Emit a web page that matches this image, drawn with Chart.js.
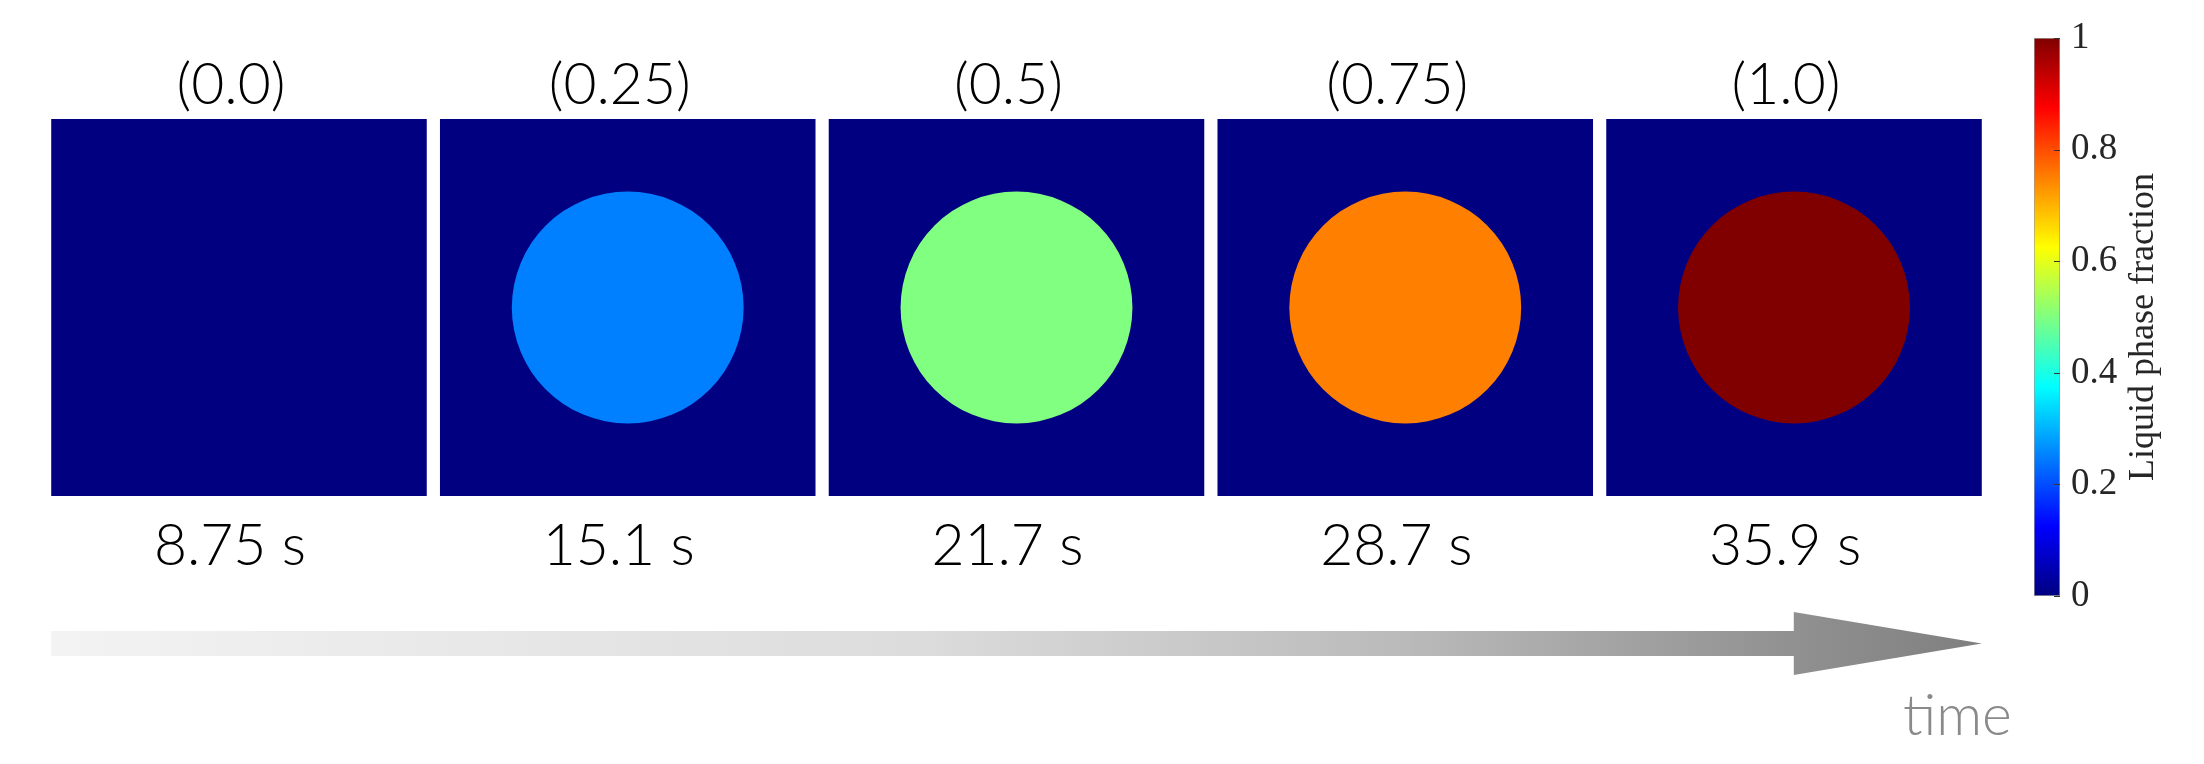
<!DOCTYPE html>
<html>
<head>
<meta charset="utf-8">
<script src="https://cdn.jsdelivr.net/npm/chart.js@4.4.1/dist/chart.umd.min.js"></script>
<style>
  html, body { margin: 0; padding: 0; background: #fff; }
  #wrap { position: relative; width: 2204px; height: 764px; }
  #snapshots { position: absolute; left: 0; top: 0; }
  #colorbar { position: absolute; left: 2000px; top: 0; }
</style>
</head>
<body>
<div id="wrap">
  <canvas id="snapshots" width="2204" height="764"></canvas>
  <canvas id="colorbar" width="204" height="764"></canvas>
</div>
<script>
// ── DATA ───────────────────────────────────────────────────────────
const TIMES = [8.75, 15.1, 21.7, 28.7, 35.9];            // snapshot time, s
const LIQUID_FRACTION = [0.0, 0.25, 0.5, 0.75, 1.0];     // droplet liquid fraction
const DOMAIN = [-1, 1];                                  // square domain, half-width units
const DROPLET_CENTER = 0;
const DROPLET_RADIUS = 0.615;                            // same units as DOMAIN
const CBAR_TICKS = [0, 0.2, 0.4, 0.6, 0.8, 1];
const CBAR_LABEL = 'Liquid phase fraction';

// ── JET COLORMAP ───────────────────────────────────────────────────
const JET_POS = [0, 0.125, 0.375, 0.625, 0.875, 1];
const JET_RGB = [[0, 0, 128], [0, 0, 255], [0, 255, 255], [255, 255, 0], [255, 0, 0], [128, 0, 0]];

const rgb = (c) => `rgb(${c.map(Math.round).join(',')})`;

function jet(v) {
  for (let i = 1; i < JET_POS.length; i++) {
    if (v <= JET_POS[i]) {
      const t = (v - JET_POS[i - 1]) / (JET_POS[i] - JET_POS[i - 1]);
      const a = JET_RGB[i - 1], b = JET_RGB[i];
      return rgb(a.map((c, k) => c + (b[k] - c) * t));
    }
  }
  return rgb(JET_RGB[JET_RGB.length - 1]);
}

const fmtFraction = (v) => '(' + (Number.isInteger(v) ? v.toFixed(1) : String(v)) + ')';
const LABEL_FONT = { family: "'Lato Light', Lato, 'Open Sans', sans-serif", weight: '300', size: 57, lineHeight: 1.1 };

// droplet radius in pixels, taken from the y scale once the layout is known
let dropletPx = 0;
const dropletSize = {
  id: 'dropletSize',
  afterLayout(chart) {
    const y = chart.scales.y;
    dropletPx = Math.abs(y.getPixelForValue(DROPLET_RADIUS) - y.getPixelForValue(DROPLET_CENTER));
  }
};

// ── TIME ARROW (decoration under the panels) ───────────────────────
const timeArrow = {
  id: 'timeArrow',
  afterDatasetsDraw(chart) {
    const { ctx, chartArea } = chart;
    const bars = chart.getDatasetMeta(0).data;
    const first = bars[0], last = bars[bars.length - 1];
    const x0 = first.x - first.width / 2;
    const x1 = last.x + last.width / 2;
    const yc = chartArea.bottom + 147.5;
    const headLen = 188, shaft = 12.5, head = 31.5;

    const g = ctx.createLinearGradient(x0, 0, x1, 0);
    g.addColorStop(0, '#f3f3f3');
    g.addColorStop(0.45, '#dcdcdc');
    g.addColorStop(0.7, '#bababa');
    g.addColorStop(0.9, '#919191');
    g.addColorStop(1, '#7f7f7f');

    ctx.save();
    ctx.fillStyle = g;
    ctx.beginPath();
    ctx.moveTo(x0, yc - shaft);
    ctx.lineTo(x1 - headLen, yc - shaft);
    ctx.lineTo(x1 - headLen, yc - head);
    ctx.lineTo(x1, yc);
    ctx.lineTo(x1 - headLen, yc + head);
    ctx.lineTo(x1 - headLen, yc + shaft);
    ctx.lineTo(x0, yc + shaft);
    ctx.closePath();
    ctx.fill();

    ctx.fillStyle = '#8a8a8a';
    ctx.font = `${LABEL_FONT.weight} ${LABEL_FONT.size}px ${LABEL_FONT.family}`;
    ctx.textAlign = 'right';
    ctx.textBaseline = 'alphabetic';
    ctx.fillText('time', x1 + 30, yc + 91.5);
    ctx.restore();
  }
};

// ── SNAPSHOT PANELS ────────────────────────────────────────────────
const timeLabels = TIMES.map(t => `${t} s`);

new Chart(document.getElementById('snapshots'), {
  type: 'bar',
  data: {
    labels: timeLabels,
    datasets: [
      {
        type: 'bar',
        order: 2,
        data: TIMES.map(() => DOMAIN),
        backgroundColor: jet(0),
        borderWidth: 0,
        barPercentage: 0.966,
        categoryPercentage: 1,
      },
      {
        type: 'line',
        order: 1,
        showLine: false,
        clip: false,
        data: LIQUID_FRACTION.map((f, i) => ({ x: timeLabels[i], y: DROPLET_CENTER })),
        pointStyle: 'circle',
        pointBackgroundColor: LIQUID_FRACTION.map(jet),
        pointBorderWidth: 0,
        pointRadius: () => dropletPx,
      }
    ]
  },
  options: {
    responsive: false,
    animation: false,
    events: [],
    layout: { padding: { left: 44.6, right: 215.6, top: 20, bottom: 148 } },
    plugins: { legend: { display: false }, tooltip: { enabled: false } },
    scales: {
      x: {
        type: 'category',
        position: 'bottom',
        offset: true,
        grid: { display: false, drawTicks: false },
        border: { display: false },
        ticks: { padding: 19, labelOffset: -9, color: '#000', font: LABEL_FONT, maxRotation: 0, autoSkip: false },
        afterFit: (s) => { s.height = 120; },
      },
      x2: {
        type: 'category',
        position: 'top',
        labels: LIQUID_FRACTION.map(fmtFraction),
        offset: true,
        grid: { display: false, drawTicks: false },
        border: { display: false },
        ticks: { padding: 2, labelOffset: -8, color: '#000', font: LABEL_FONT, maxRotation: 0, autoSkip: false },
        afterFit: (s) => { s.height = 99; },
      },
      y: { min: DOMAIN[0], max: DOMAIN[1], display: false }
    }
  },
  plugins: [dropletSize, timeArrow]
});

// ── COLORBAR ───────────────────────────────────────────────────────
const cbarDecor = {
  id: 'cbarDecor',
  afterDraw(chart) {
    const { ctx, chartArea } = chart;
    const y = chart.scales.y;
    ctx.save();
    ctx.strokeStyle = '#333';
    ctx.lineWidth = 1;
    y.ticks.forEach(t => {
      const py = Math.round(y.getPixelForValue(t.value)) + 0.5;
      ctx.beginPath();
      ctx.moveTo(chartArea.right - 6, py);
      ctx.lineTo(chartArea.right, py);
      ctx.stroke();
    });
    ctx.translate(153, 327);
    ctx.rotate(-Math.PI / 2);
    ctx.fillStyle = '#262626';
    ctx.font = "36px 'Liberation Serif', serif";
    ctx.textAlign = 'center';
    ctx.textBaseline = 'alphabetic';
    ctx.fillText(CBAR_LABEL, 0, 0);
    ctx.restore();
  }
};

new Chart(document.getElementById('colorbar'), {
  type: 'bar',
  data: {
    labels: [''],
    datasets: [{
      data: [[CBAR_TICKS[0], CBAR_TICKS[CBAR_TICKS.length - 1]]],
      backgroundColor: (ctx) => {
        const { chart } = ctx;
        if (!chart.chartArea) return jet(0);
        const y = chart.scales.y;
        const g = chart.ctx.createLinearGradient(0, y.getPixelForValue(0), 0, y.getPixelForValue(1));
        JET_POS.forEach((p, i) => g.addColorStop(p, rgb(JET_RGB[i])));
        return g;
      },
      borderColor: '#9a9a9a',
      borderWidth: 1,
      borderSkipped: false,
      barPercentage: 1,
      categoryPercentage: 1,
    }]
  },
  options: {
    responsive: false,
    animation: false,
    events: [],
    layout: { padding: { left: 34, right: 54, top: 38, bottom: 168 } },
    plugins: { legend: { display: false }, tooltip: { enabled: false } },
    scales: {
      x: { display: false },
      y: {
        position: 'right',
        min: 0,
        max: 1,
        grid: { display: false, drawTicks: false },
        border: { display: false },
        afterBuildTicks: (s) => { s.ticks = CBAR_TICKS.map(v => ({ value: v })); },
        afterFit: (s) => { s.width = 90; },
        ticks: {
          padding: 11,
          color: '#262626',
          font: { family: "'Liberation Serif', serif", size: 37 },
          callback: (v) => String(v),
        }
      }
    }
  },
  plugins: [cbarDecor]
});
</script>
</body>
</html>
